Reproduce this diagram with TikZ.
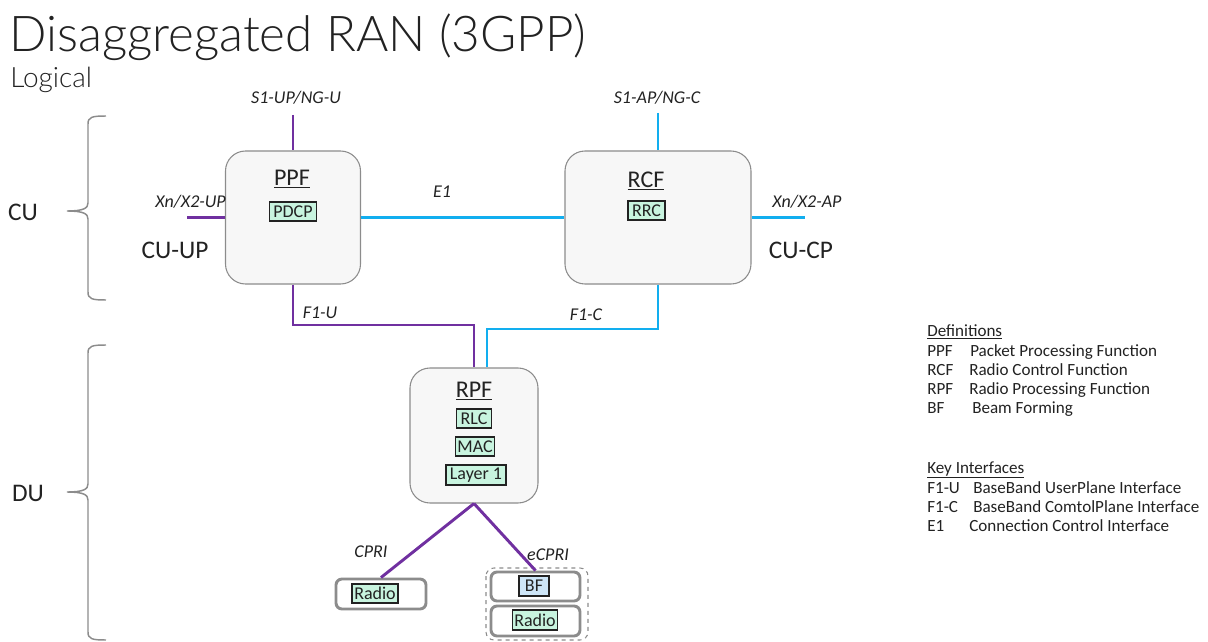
\documentclass[tikz,border=0pt]{standalone}
\usepackage{fontspec}
\setmainfont{Carlito}
\newfontfamily\headfont{Lato Light}
\usetikzlibrary{calc}
\definecolor{upl}{HTML}{7030A0}
\definecolor{cpl}{HTML}{12AEEF}
\definecolor{boxfill}{HTML}{F7F7F7}
\definecolor{boxline}{HTML}{8C8C8C}
\definecolor{mint}{HTML}{C8F4DF}
\definecolor{bfblue}{HTML}{CDE5F7}
\definecolor{ink}{HTML}{222222}
\begin{document}
\begin{tikzpicture}[x=0.75pt,y=-0.75pt,
  every node/.style={text=ink},
  func/.style={draw=boxline, fill=boxfill, line width=0.8pt, rounded corners=15pt, inner sep=0pt},
  ftitle/.style={font=\fontsize{18}{20}\selectfont},
  layer/.style={draw=ink, fill=mint, line width=0.8pt, inner sep=0pt, font=\fontsize{13.5}{15}\selectfont},
  radiobox/.style={draw=boxline, fill=white, line width=2.2pt, rounded corners=4.5pt, inner sep=0pt},
  upline/.style={draw=upl, line width=2.2pt, line join=miter},
  cpline/.style={draw=cpl, line width=2.2pt, line join=miter},
  iflabel/.style={font=\fontsize{13.5}{15}\selectfont\itshape},
  side/.style={font=\fontsize{19}{21}\selectfont},
  brace/.style={draw=boxline, line width=1.1pt},
  legend/.style={anchor=base west, font=\fontsize{12.8}{14}\selectfont, inner sep=0pt}
]
\useasboundingbox (0,0) rectangle (1208,642);

% heading
\node[anchor=base west, inner sep=0pt, font=\headfont\fontsize{37}{41}\selectfont] (title) at (9,52) {Disaggregated RAN (3GPP)};
\node[anchor=base west, inner sep=0pt, font=\headfont\fontsize{21}{23}\selectfont] (sub) at (10,88) {Logical};

% functions
\node[func, minimum width=135*0.75pt, minimum height=133*0.75pt] (ppf) at (293,217.5) {};
\node[func, minimum width=186*0.75pt, minimum height=133*0.75pt] (rcf) at (658,217.5) {};
\node[func, minimum width=128*0.75pt, minimum height=135*0.75pt] (rpf) at (474,435.5) {};

\node[ftitle] (ppft) at (292,179) {\underline{PPF}};
\node[ftitle] (rcft) at (646,181) {\underline{RCF}};
\node[ftitle] (rpft) at (474,391) {\underline{RPF}};

\node[layer, minimum width=47*0.75pt, minimum height=19*0.75pt] (pdcp) at (293,211.5) {PDCP};
\node[layer, minimum width=37*0.75pt, minimum height=19*0.75pt] (rrc) at (646.5,210.5) {RRC};
\node[layer, minimum width=35*0.75pt, minimum height=19*0.75pt] (rlc) at (474,418.5) {RLC};
\node[layer, minimum width=39*0.75pt, minimum height=19*0.75pt] (mac) at (475,446.5) {MAC};
\node[layer, minimum width=60*0.75pt, minimum height=20*0.75pt] (l1) at (476,475) {Layer 1};

% radio units
\draw[boxline, line width=0.8pt, dashed, rounded corners=6pt] (486,568) rectangle (588,640);
\node[radiobox, minimum width=90*0.75pt, minimum height=30*0.75pt] (radio1) at (381,594) {};
\node[radiobox, minimum width=89*0.75pt, minimum height=29*0.75pt] (bfbox) at (535.5,586.5) {};
\node[radiobox, minimum width=89*0.75pt, minimum height=30*0.75pt] (radio2) at (535.5,621) {};
\node[layer, minimum width=46*0.75pt, minimum height=19*0.75pt] (r1) at (375,593.5) {Radio};
\node[layer, fill=bfblue, minimum width=30*0.75pt, minimum height=20*0.75pt] (bf) at (534,586) {BF};
\node[layer, minimum width=45*0.75pt, minimum height=20*0.75pt] (r2) at (535,620) {Radio};

% free ends of the external interfaces
\coordinate (s1u) at (293,115);
\coordinate (s1c) at (658,113);
\coordinate (xnup) at (187,217.5);
\coordinate (xnap) at (805,217.5);
\coordinate (f1u) at (474,325);
\coordinate (f1c) at (487,329);

% user plane
\draw[upline] (s1u) -- (ppf.north);
\draw[upline] (xnup) -- (ppf.west);
\draw[upline] (ppf.south) |- (f1u) -- (rpf.north);
\draw[upline] (rpf.south) -- (radio1.north);
\draw[upline] (rpf.south) -- (bfbox.north);

% control plane
\draw[cpline] (s1c) -- (rcf.north);
\draw[cpline] (rcf.east) -- (xnap);
\draw[cpline] (ppf.east) -- (rcf.west);
\draw[cpline] (rcf.south) |- (f1c) -- (f1c |- rpf.north);

% interface labels
\node[iflabel] (ls1u) at (296,98) {S1-UP/NG-U};
\node[iflabel] (ls1c) at (657,98) {S1-AP/NG-C};
\node[iflabel, anchor=east, inner sep=0pt] (lxnup) at (226,202) {Xn/X2-UP};
\node[iflabel, anchor=west, inner sep=0pt] (lxnap) at (772,202) {Xn/X2-AP};
\node[iflabel] (le1) at (442,192) {E1};
\node[iflabel] (lf1u) at (320,313) {F1-U};
\node[iflabel] (lf1c) at (586,315) {F1-C};
\node[iflabel] (lcpri) at (371,552) {CPRI};
\node[iflabel] (lecpri) at (548,555) {eCPRI};

\node[side] (cuup) at (175,250) {CU-UP};
\node[side] (cucp) at (801,250) {CU-CP};

% CU / DU braces
\draw[brace] (106,116) .. controls (92,116) and (88,117) .. (88,124) -- (88,203)
  .. controls (88,208) and (84,211) .. (67,211)
  .. controls (84,211) and (88,214) .. (88,219) -- (88,292)
  .. controls (88,299) and (92,300) .. (106,300);
\draw[brace] (106,345) .. controls (92,345) and (88,346) .. (88,353) -- (88,484)
  .. controls (88,489) and (84,492) .. (67,492)
  .. controls (84,492) and (88,495) .. (88,500) -- (88,632)
  .. controls (88,639) and (92,640) .. (106,640);
\node[side] (cu) at (23,212) {CU};
\node[side] (du) at (28,493) {DU};

% legend
\node[legend] (defh) at (927,336) {\underline{Definitions}};
\node[legend] (d1a) at (927,356) {PPF};  \node[legend] (d1b) at (970,356) {Packet Processing Function};
\node[legend] (d2a) at (927,375) {RCF};  \node[legend] (d2b) at (969,375) {Radio Control Function};
\node[legend] (d3a) at (927,394) {RPF};  \node[legend] (d3b) at (969,394) {Radio Processing Function};
\node[legend] (d4a) at (927,413) {BF};   \node[legend] (d4b) at (972,413) {Beam Forming};
\node[legend] (keyh) at (927,473) {\underline{Key Interfaces}};
\node[legend] (k1a) at (927,493) {F1-U}; \node[legend] (k1b) at (973,493) {BaseBand UserPlane Interface};
\node[legend] (k2a) at (927,512) {F1-C}; \node[legend] (k2b) at (973,512) {BaseBand ComtolPlane Interface};
\node[legend] (k3a) at (927,531) {E1};   \node[legend] (k3b) at (969,531) {Connection Control Interface};
\end{tikzpicture}
\end{document}
